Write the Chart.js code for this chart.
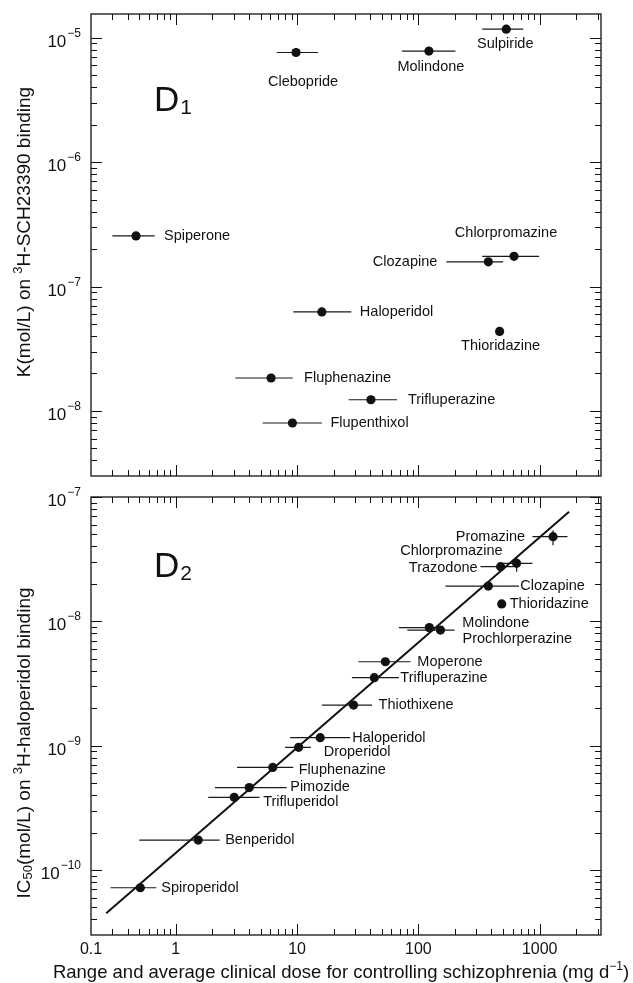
<!DOCTYPE html>
<html>
<head>
<meta charset="utf-8">
<script src="https://cdn.jsdelivr.net/npm/chart.js@4.4.1/dist/chart.umd.min.js"></script>
<style>
  html, body { margin: 0; padding: 0; background: #fff; }
  #wrap { position: relative; width: 633px; height: 983px; }
  #wrap canvas { position: absolute; left: 0; }
  #d1Chart { top: 0; }
  #d2Chart { top: 483px; }
</style>
</head>
<body>
<div id="wrap">
  <canvas id="d1Chart" width="633" height="490"></canvas>
  <canvas id="d2Chart" width="633" height="500"></canvas>
</div>
<script>
const FONT = "'Liberation Sans', Arial, Helvetica, sans-serif";

// shared x axis: clinical dose, mg/day (axis runs 0.2 .. ~3200, the figure labels its left edge "0.1")
const doseMin = 0.2;
const doseMax = 3200;

// D1 panel: K on 3H-SCH23390 binding
const d1Drugs = ["Clebopride", "Molindone", "Sulpiride", "Spiperone", "Chlorpromazine", "Clozapine",
  "Haloperidol", "Thioridazine", "Fluphenazine", "Trifluperazine", "Flupenthixol"];
const d1Dose   = [9.8, 122, 530, 0.47, 614, 377, 16, 467, 6.1, 40.6, 9.15];
const d1DoseLo = [6.8, 73, 336, 0.30, 336, 170, 9.3, null, 3.1, 26.6, 5.2];
const d1DoseHi = [14.9, 202, 733, 0.67, 988, 500, 28, null, 9.2, 66.7, 16];
const d1K      = [7.6e-6, 7.8e-6, 1.17e-5, 2.55e-7, 1.75e-7, 1.58e-7, 6.25e-8, 4.36e-8, 1.84e-8, 1.23e-8, 8.0e-9];
const d1KMin = 3.0e-9;
const d1KMax = 1.55e-5;

// D2 panel: IC50 on 3H-haloperidol binding
const d2Drugs = ["Promazine", "Chlorpromazine", "Trazodone", "Clozapine", "Thioridazine", "Molindone",
  "Prochlorperazine", "Moperone", "Trifluperazine", "Thiothixene", "Haloperidol", "Droperidol",
  "Fluphenazine", "Pimozide", "Trifluperidol", "Benperidol", "Spiroperidol"];
const d2Dose   = [1288, 645, 476, 377, 486, 123, 152, 53.4, 43.3, 29.2, 15.5, 10.3, 6.3, 4.03, 3.03, 1.53, 0.51];
const d2DoseLo = [871, 492, 325, 167, null, 69, 81, 32, 28.3, 16, 8.75, 7.95, 3.2, 2.1, 1.85, 0.50, 0.29];
const d2DoseHi = [1694, 871, 610, 675, null, 152, 199, 86, 69, 41.4, 27.4, 13, 9.3, 8.2, 4.9, 2.3, 0.69];
const d2IC50   = [4.8e-8, 2.93e-8, 2.75e-8, 1.92e-8, 1.38e-8, 8.9e-9, 8.5e-9, 4.73e-9, 3.52e-9, 2.12e-9,
  1.16e-9, 9.7e-10, 6.68e-10, 4.6e-10, 3.84e-10, 1.74e-10, 7.2e-11];
const d2IC50Lo = [4.1e-8, 2.5e-8, null, null, null, null, null, null, null, null, null, null, null, null, null, null, null];
const d2IC50Hi = [5.4e-8, 3.31e-8, null, null, null, null, null, null, null, null, null, null, null, null, null, null, null];
const d2IC50Min = 3.0e-11;
const d2IC50Max = 1e-7;

// regression line end points
const fitDose = [0.267, 1746];
const fitIC50 = [4.48e-11, 7.62e-8];

// where each name sits relative to its dot: [dx, dy, align]
const d1LabelPos = [[7, 29, "center"], [2, 16, "center"], [-1, 15, "center"], [28, 0, "left"],
  [-8, -23, "center"], [-51, 0, "right"], [38, 0, "left"], [1, 15, "center"], [33, 0, "left"],
  [37, 0, "left"], [38, 0, "left"]];
const d2LabelPos = [[-28, 0, "right"], [-14, -12, "right"], [-23, 1, "right"], [32, 0, "left"],
  [8, 0, "left"], [33, -5, "left"], [22, 9, "left"], [32, 0, "left"], [26, 0, "left"], [25, 0, "left"],
  [32, 0, "left"], [25, 5, "left"], [26, 3, "left"], [41, -1, "left"], [29, 5, "left"], [27, 0, "left"],
  [21, 0, "left"]];

function isDecade(v) {
  const l = Math.log10(v);
  return Math.abs(l - Math.round(l)) < 1e-6;
}

function isWholeStep(v) {
  const m = v / Math.pow(10, Math.floor(Math.log10(v) + 1e-9));
  return Math.abs(m - Math.round(m)) < 1e-6;
}

// text with superscript / subscript pieces, centred on (cx, cy)
function drawRich(ctx, parts, cx, cy, size, angle) {
  const small = Math.round(size * 0.66);
  ctx.save();
  ctx.translate(cx, cy);
  ctx.rotate(angle || 0);
  ctx.textBaseline = "alphabetic";
  ctx.textAlign = "left";
  let total = 0;
  parts.forEach(p => {
    ctx.font = (p.sup || p.sub ? small : size) + "px " + FONT;
    p.w = ctx.measureText(p.t).width;
    total += p.w;
  });
  let x = -total / 2;
  const base = size * 0.36;
  parts.forEach(p => {
    ctx.font = (p.sup || p.sub ? small : size) + "px " + FONT;
    let y = base;
    if (p.sup) y = base - size * 0.42;
    if (p.sub) y = base + size * 0.12;
    ctx.fillText(p.t, x, y);
    x += p.w;
  });
  ctx.restore();
}

function errorBars(xLo, xHi, yVals, xVals, yLo, yHi) {
  return {
    id: "errorBars",
    beforeDatasetsDraw(chart) {
      const { ctx } = chart;
      const xs = chart.scales.x, ys = chart.scales.y;
      ctx.save();
      ctx.strokeStyle = "#1a1a1a";
      ctx.lineWidth = 1.2;
      ctx.beginPath();
      yVals.forEach((v, i) => {
        const py = ys.getPixelForValue(v);
        if (xLo[i] != null) {
          ctx.moveTo(xs.getPixelForValue(xLo[i]), py);
          ctx.lineTo(xs.getPixelForValue(xHi[i]), py);
        }
        if (yLo && yLo[i] != null) {
          const px = xs.getPixelForValue(xVals[i]);
          ctx.moveTo(px, ys.getPixelForValue(yLo[i]));
          ctx.lineTo(px, ys.getPixelForValue(yHi[i]));
        }
      });
      ctx.stroke();
      ctx.restore();
    }
  };
}

function drugLabels(names, pos) {
  return {
    id: "drugLabels",
    afterDatasetsDraw(chart) {
      const { ctx } = chart;
      const pts = chart.getDatasetMeta(0).data;
      ctx.save();
      ctx.fillStyle = "#111";
      ctx.font = "14.5px " + FONT;
      ctx.textBaseline = "middle";
      names.forEach((n, i) => {
        const [dx, dy, align] = pos[i];
        ctx.textAlign = align;
        ctx.fillText(n, pts[i].x + dx, pts[i].y + dy);
      });
      ctx.restore();
    }
  };
}

// box, inward tick marks on all four sides, and 10^n labels on the left axis
const frameTicks = {
  id: "frameTicks",
  afterDraw(chart) {
    const { ctx, chartArea: a } = chart;
    const xs = chart.scales.x, ys = chart.scales.y;
    ctx.save();
    ctx.strokeStyle = "#111";
    ctx.lineWidth = 1.3;
    ctx.strokeRect(a.left, a.top, a.right - a.left, a.bottom - a.top);
    ctx.lineWidth = 1;
    ctx.beginPath();
    xs.ticks.forEach(t => {
      if (!isWholeStep(t.value)) return;
      const p = Math.round(xs.getPixelForValue(t.value)) + 0.5;
      if (p <= a.left + 1 || p >= a.right - 1) return;
      const len = isDecade(t.value) ? 11 : 6;
      ctx.moveTo(p, a.bottom); ctx.lineTo(p, a.bottom - len);
      ctx.moveTo(p, a.top); ctx.lineTo(p, a.top + len);
    });
    ys.ticks.forEach(t => {
      if (!isWholeStep(t.value)) return;
      const p = Math.round(ys.getPixelForValue(t.value)) + 0.5;
      if (p <= a.top - 1 || p >= a.bottom - 1) return;
      const len = isDecade(t.value) ? 11 : 6;
      ctx.moveTo(a.left, p); ctx.lineTo(a.left + len, p);
      ctx.moveTo(a.right, p); ctx.lineTo(a.right - len, p);
    });
    ctx.stroke();

    ctx.fillStyle = "#111";
    ctx.textBaseline = "alphabetic";
    ys.ticks.forEach(t => {
      if (!isDecade(t.value)) return;
      const p = ys.getPixelForValue(t.value);
      const exp = "\u2212" + Math.abs(Math.round(Math.log10(t.value)));
      ctx.font = "12px " + FONT;
      const ew = ctx.measureText(exp).width;
      const right = a.left - 10;
      ctx.textAlign = "left";
      ctx.fillText(exp, right - ew, p - 1);
      ctx.font = "17px " + FONT;
      ctx.textAlign = "right";
      ctx.fillText("10", right - ew - 1, p + 9);
    });
    ctx.restore();
  }
};

function panelTag(sub, x, y) {
  return {
    id: "panelTag",
    afterDraw(chart) {
      const { ctx } = chart;
      ctx.save();
      ctx.fillStyle = "#111";
      ctx.textBaseline = "alphabetic";
      ctx.textAlign = "left";
      ctx.font = "35px " + FONT;
      ctx.fillText("D", x, y);
      const w = ctx.measureText("D").width;
      ctx.font = "21px " + FONT;
      ctx.fillText(sub, x + w + 1, y + 3);
      ctx.restore();
    }
  };
}

function titles(list) {
  return {
    id: "titles",
    afterDraw(chart) {
      const { ctx } = chart;
      ctx.save();
      ctx.fillStyle = "#111";
      list.forEach(t => drawRich(ctx, t.parts, t.x, t.y, t.size, t.angle));
      ctx.restore();
    }
  };
}

function logAxes(yMin, yMax, showX, xHeight) {
  return {
    x: {
      type: "logarithmic",
      min: doseMin,
      max: doseMax,
      grid: { display: false, drawTicks: false },
      border: { display: false },
      ticks: {
        display: showX,
        autoSkip: false,
        maxRotation: 0,
        padding: 5,
        color: "#111",
        font: { family: FONT, size: 16 },
        callback: (v, i) => i === 0 ? "0.1" : (isDecade(v) ? String(v) : "")
      },
      afterFit: s => { s.height = xHeight; }
    },
    y: {
      type: "logarithmic",
      min: yMin,
      max: yMax,
      grid: { display: false, drawTicks: false },
      border: { display: false },
      ticks: { display: false, autoSkip: false },
      afterFit: s => { s.width = 91; }
    }
  };
}

const dotStyle = {
  pointRadius: 4.6,
  pointBackgroundColor: "#111",
  pointBorderWidth: 0,
  showLine: false
};

new Chart(document.getElementById("d1Chart"), {
  type: "scatter",
  data: {
    datasets: [Object.assign({
      data: d1Dose.map((d, i) => ({ x: d, y: d1K[i] }))
    }, dotStyle)]
  },
  options: {
    responsive: false,
    animation: false,
    layout: { padding: { top: 14, right: 32, bottom: 0, left: 0 } },
    plugins: { legend: { display: false }, tooltip: { enabled: false } },
    scales: logAxes(d1KMin, d1KMax, false, 14)
  },
  plugins: [
    errorBars(d1DoseLo, d1DoseHi, d1K, d1Dose),
    drugLabels(d1Drugs, d1LabelPos),
    frameTicks,
    panelTag("1", 154, 111),
    titles([{
      parts: [{ t: "K(mol/L) on " }, { t: "3", sup: true }, { t: "H-SCH23390 binding" }],
      x: 23, y: 232, size: 19, angle: -Math.PI / 2
    }])
  ]
});

new Chart(document.getElementById("d2Chart"), {
  type: "scatter",
  data: {
    datasets: [
      Object.assign({
        data: d2Dose.map((d, i) => ({ x: d, y: d2IC50[i] }))
      }, dotStyle),
      {
        data: fitDose.map((d, i) => ({ x: d, y: fitIC50[i] })),
        showLine: true,
        borderColor: "#111",
        borderWidth: 2,
        pointRadius: 0,
        fill: false
      }
    ]
  },
  options: {
    responsive: false,
    animation: false,
    layout: { padding: { top: 14, right: 32, bottom: 0, left: 0 } },
    plugins: { legend: { display: false }, tooltip: { enabled: false } },
    scales: logAxes(d2IC50Min, d2IC50Max, true, 48)
  },
  plugins: [
    errorBars(d2DoseLo, d2DoseHi, d2IC50, d2Dose, d2IC50Lo, d2IC50Hi),
    drugLabels(d2Drugs, d2LabelPos),
    frameTicks,
    panelTag("2", 154, 94),
    titles([
      {
        parts: [{ t: "IC" }, { t: "50", sub: true }, { t: "(mol/L) on " }, { t: "3", sup: true }, { t: "H-haloperidol binding" }],
        x: 23, y: 260, size: 19, angle: -Math.PI / 2
      },
      {
        parts: [{ t: "Range and average clinical dose for controlling schizophrenia (mg d" }, { t: "\u22121", sup: true }, { t: ")" }],
        x: 341, y: 488, size: 18.5, angle: 0
      }
    ])
  ]
});
</script>
</body>
</html>
